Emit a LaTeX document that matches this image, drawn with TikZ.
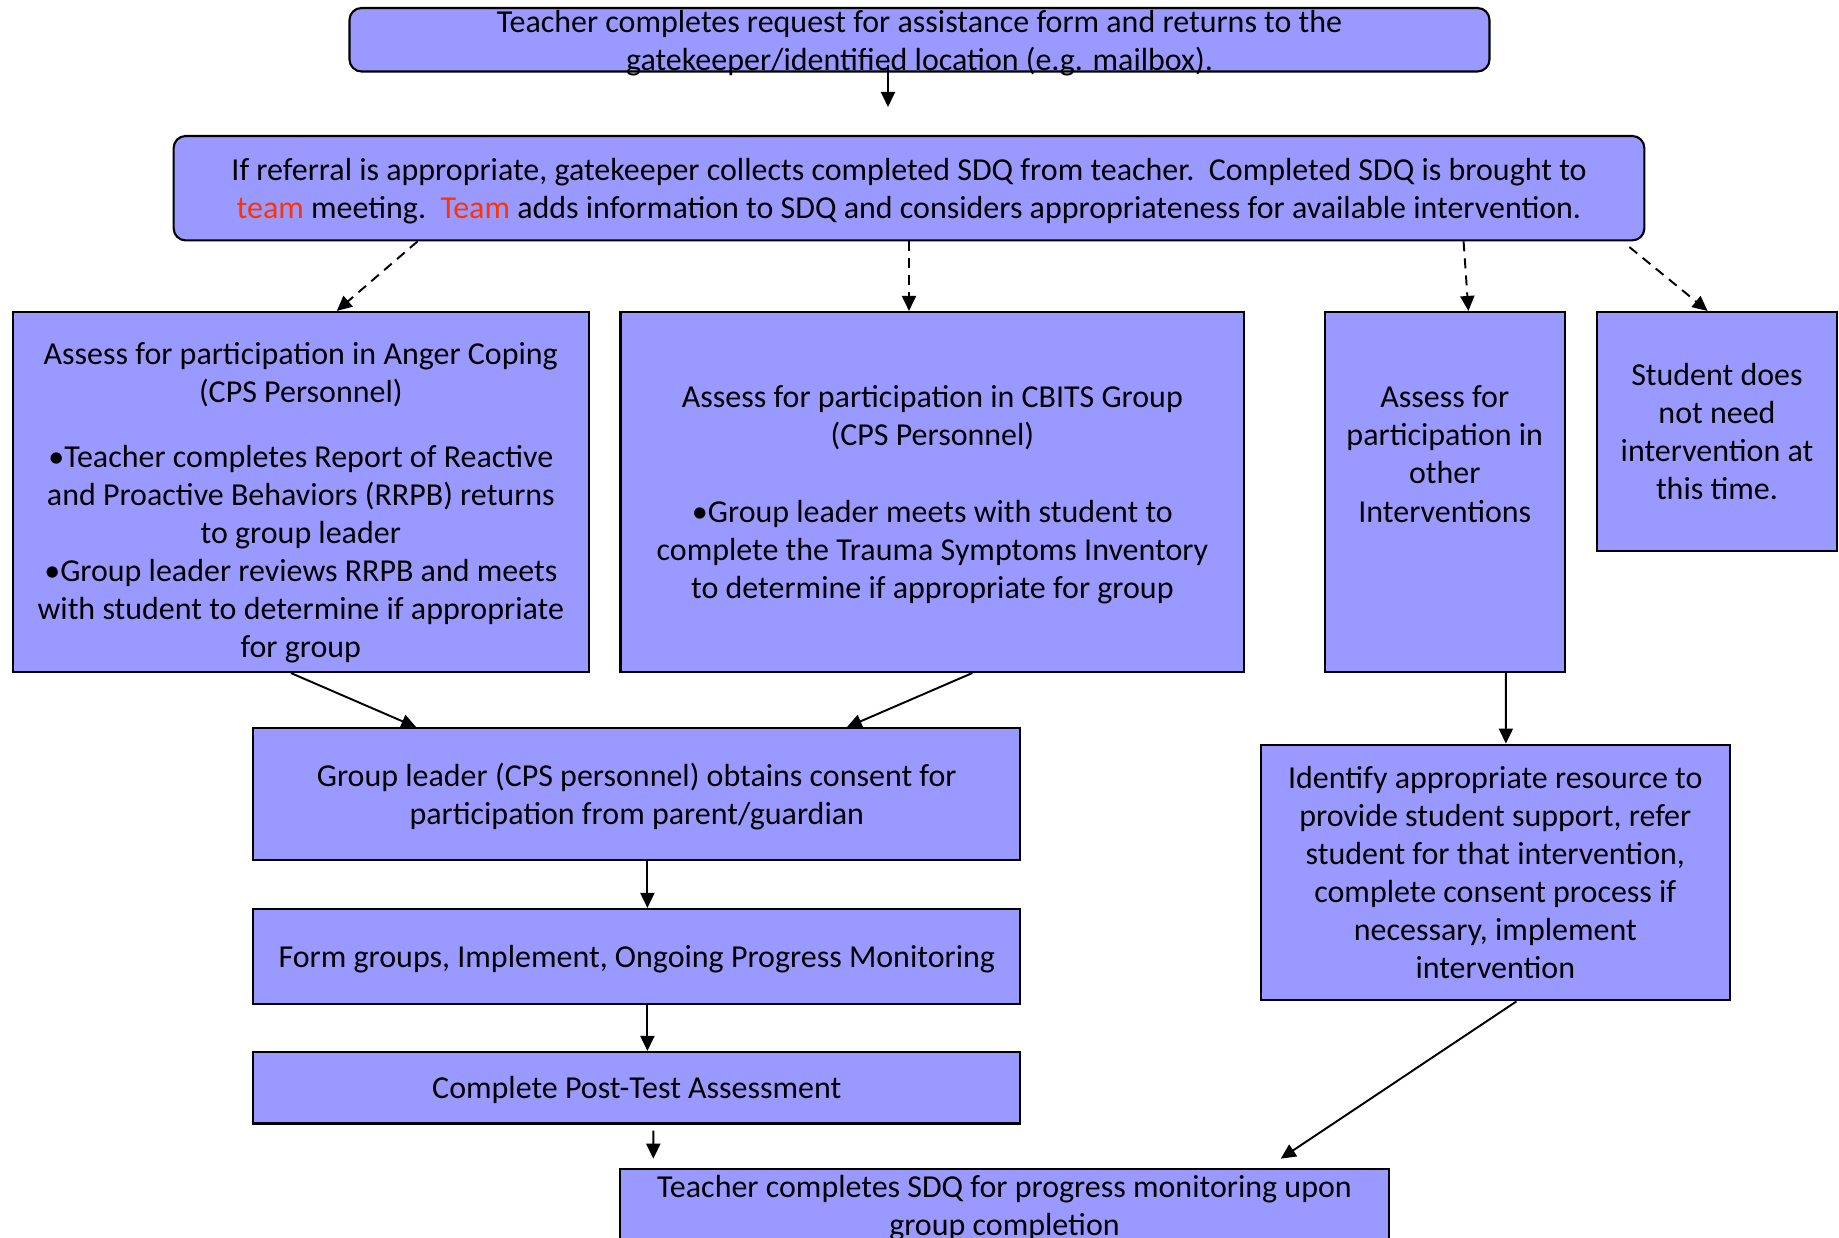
\documentclass[tikz,border=0pt]{standalone}
\usepackage{fontspec}
\setmainfont{Carlito}
\usepackage{tikz}
\usetikzlibrary{arrows.meta}
\definecolor{boxfill}{RGB}{153,153,255}
\definecolor{teamred}{RGB}{255,51,0}
\tikzset{
  box/.style={draw=black,fill=boxfill,line width=0.6pt,inner sep=0pt,align=center,
    font=\fontsize{9.1}{10.85}\selectfont,text depth=0pt},
  txt/.style={inner sep=0pt,align=center,font=\fontsize{9.1}{10.85}\selectfont,text depth=0pt},
  arr/.style={-{Triangle[length=1.5mm,width=1.4mm]},line width=0.55pt},
  darr/.style={arr,dash pattern=on 1mm off 0.7mm}
}
\begin{document}
\begin{tikzpicture}[x=0.1mm,y=-0.1mm]
\useasboundingbox (0,0) rectangle (1839,1238);
\clip (0,0) rectangle (1839,1238);
\node[box,rounded corners=1.2mm,minimum width=114mm,minimum height=6.35mm] (request) at (919.5,39.75) {};
\node[txt] (requesttxt) at ([yshift=-0.1mm]request.center) {Teacher completes request for assistance form and returns to the\\gatekeeper/identified location (e.g. mailbox).};
\coordinate (requestend) at (888,107);
\node[box,rounded corners=1.2mm,minimum width=147.07mm,minimum height=10.44mm] (referral) at (909,188.2) {If referral is appropriate, gatekeeper collects completed SDQ from teacher.\ \ Completed SDQ is brought to\\\textcolor{teamred}{team} meeting.\ \ \textcolor{teamred}{Team} adds information to SDQ and considers appropriateness for available intervention.};
\node[box,minimum width=57.58mm,minimum height=36mm] (anger) at (300.8,492) {\rule{0pt}{11pt}Assess for participation in Anger Coping\\(CPS Personnel)\\[7.4pt]\textbullet Teacher completes Report of Reactive\\and Proactive Behaviors (RRPB) returns\\to group leader\\\textbullet Group leader reviews RRPB and meets\\with student to determine if appropriate\\for group};
\node[box,minimum width=62.39mm,minimum height=36mm] (cbits) at (932.4,492) {Assess for participation in CBITS Group\\(CPS Personnel)\\[11pt]\textbullet Group leader meets with student to\\complete the Trauma Symptoms Inventory\\to determine if appropriate for group};
\node[box,minimum width=23.95mm,minimum height=36mm] (other) at (1444.8,492) {Assess for\\participation in\\other\\Interventions\\[10.85pt]\mbox{}};
\node[box,minimum width=23.93mm,minimum height=23.9mm] (noneed) at (1717,431.5) {Student does\\not need\\intervention at\\this time.};
\node[box,minimum width=76.7mm,minimum height=13.13mm] (consent) at (636.8,794) {Group leader (CPS personnel) obtains consent for\\participation from parent/guardian};
\node[box,minimum width=76.7mm,minimum height=9.5mm] (groups) at (636.8,956.5) {Form groups, Implement, Ongoing Progress Monitoring};
\node[box,minimum width=76.7mm,minimum height=7.15mm] (posttest) at (636.8,1087.75) {Complete Post-Test Assessment};
\node[box,minimum width=46.92mm,minimum height=25.57mm] (resource) at (1495.3,872.5) {Identify appropriate resource to\\provide student support, refer\\student for that intervention,\\complete consent process if\\necessary, implement\\intervention};
\node[box,minimum width=76.82mm,minimum height=7.3mm,anchor=north] (sdq) at (1004.5,1168) {Teacher completes SDQ for progress monitoring upon\\group completion};
\draw[arr] ([xshift=-3.15mm,yshift=0.75mm]request.south) -- (requestend);
\draw[darr] ([xshift=-49.15mm]referral.south) -- ([xshift=3.6mm]anger.north);
\draw[darr] (referral.south) -- (referral.south |- cbits.north);
\draw[darr] ([xshift=55.46mm]referral.south) -- ([xshift=2.36mm]other.north);
\draw[darr] ([xshift=-1.6mm,yshift=-0.56mm]referral.south east) -- ([xshift=-0.94mm]noneed.north);
\draw[arr] ([xshift=-0.99mm]anger.south) -- ([xshift=-22.05mm]consent.north);
\draw[arr] ([xshift=3.99mm]cbits.south) -- ([xshift=21mm]consent.north);
\draw[arr] ([xshift=1.06mm]consent.south) -- ([xshift=1.06mm]groups.north);
\draw[arr] ([xshift=1.06mm]groups.south) -- ([xshift=1.06mm]posttest.north);
\draw[arr] ([xshift=1.65mm,yshift=-0.6mm]posttest.south) -- ([xshift=-35.12mm,yshift=0.93mm]sdq.north);
\draw[arr] ([xshift=6.11mm]other.south) -- ([xshift=1.06mm]resource.north);
\draw[arr] ([xshift=2.11mm]resource.south) -- ([xshift=27.62mm,yshift=0.93mm]sdq.north);
\end{tikzpicture}
\end{document}
